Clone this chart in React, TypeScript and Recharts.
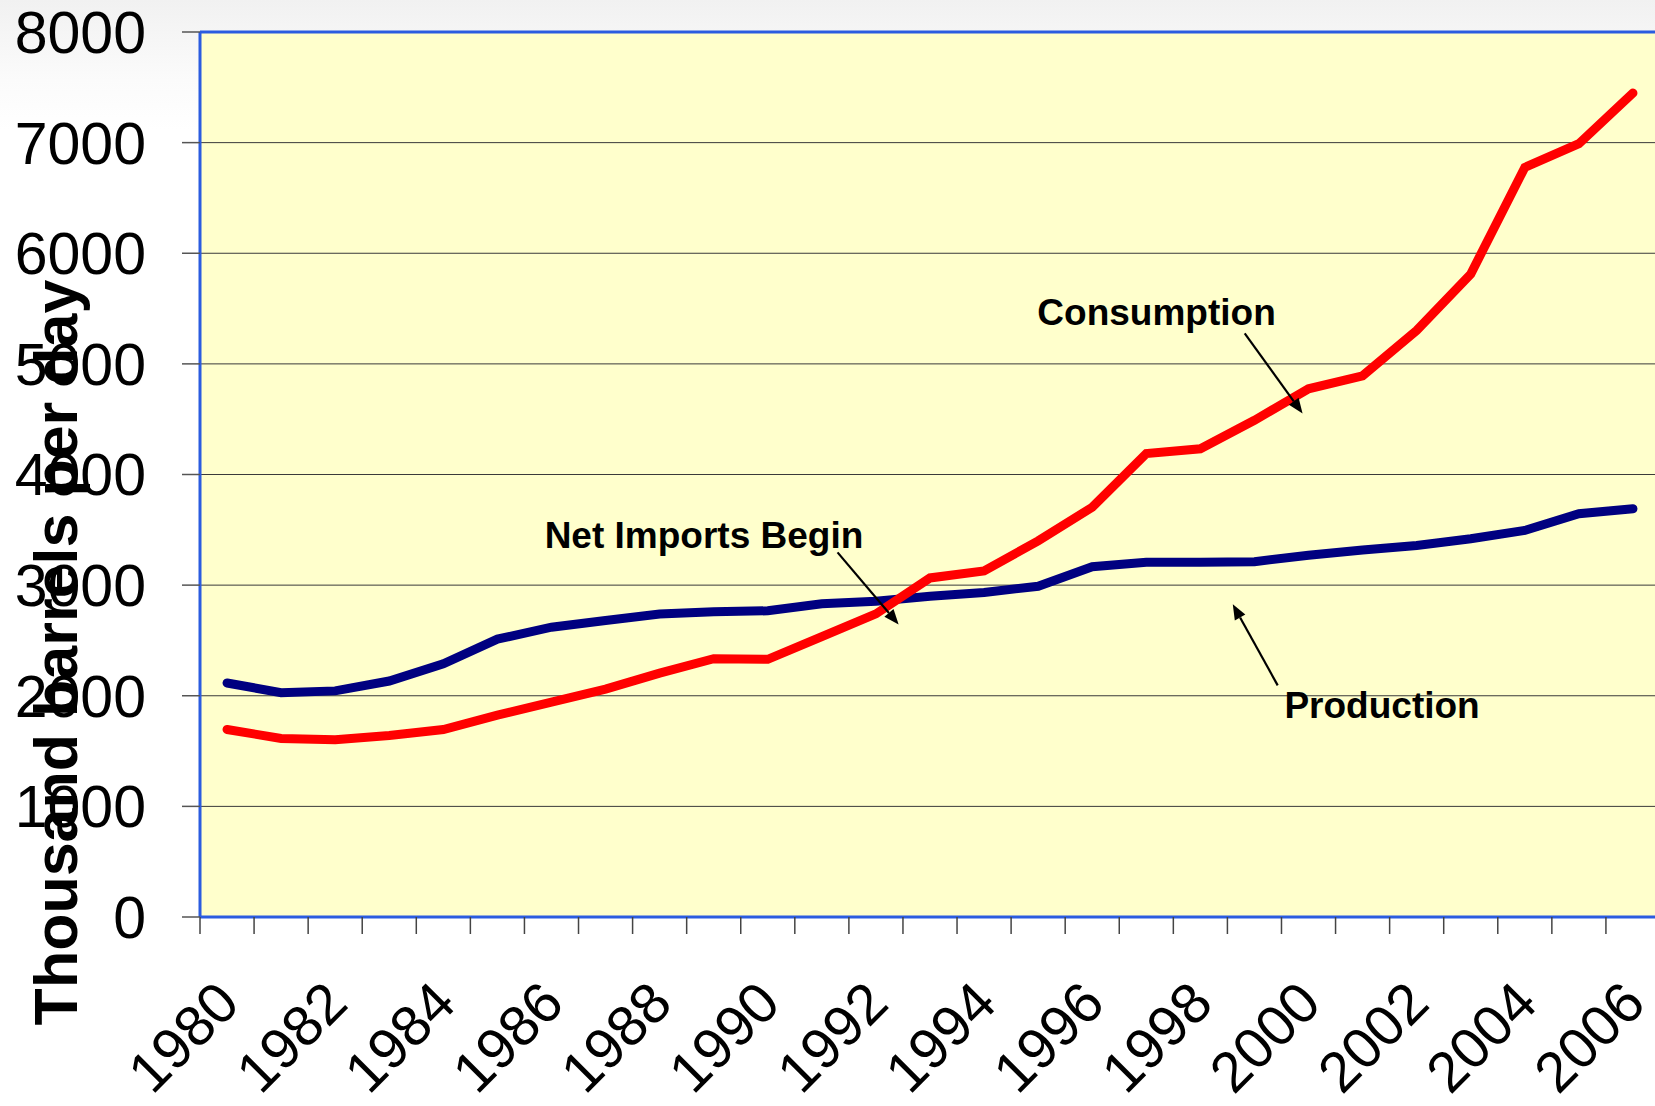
import { LineChart, Line, XAxis, YAxis, CartesianGrid, ReferenceLine, ReferenceDot } from "recharts";

const years = [
  1980, 1981, 1982, 1983, 1984, 1985, 1986, 1987, 1988, 1989, 1990, 1991, 1992, 1993,
  1994, 1995, 1996, 1997, 1998, 1999, 2000, 2001, 2002, 2003, 2004, 2005, 2006,
];
// thousand barrels per day
const consumption = [
  1695, 1614, 1603, 1640, 1695, 1825, 1943, 2060, 2205, 2335, 2329, 2535, 2740, 3065,
  3128, 3400, 3704, 4190, 4232, 4490, 4775, 4892, 5302, 5812, 6776, 6990, 7448,
];
const production = [
  2115, 2028, 2044, 2133, 2289, 2512, 2620, 2680, 2739, 2759, 2768, 2832, 2855, 2900,
  2933, 2990, 3167, 3206, 3206, 3212, 3270, 3318, 3358, 3419, 3494, 3645, 3690,
];
const yTicks = [0, 1000, 2000, 3000, 4000, 5000, 6000, 7000, 8000];
const labelYears = [1980, 1982, 1984, 1986, 1988, 1990, 1992, 1994, 1996, 1998, 2000, 2002, 2004, 2006];
const boundaries = years.map((y) => y - 0.5).concat([years[years.length - 1] + 0.5]);

const notes = [
  { text: "Consumption", year: 1997.19, value: 5348 },
  { text: "Net Imports Begin", year: 1988.82, value: 3332 },
  { text: "Production", year: 2001.36, value: 1795 },
];
const arrows = [
  { from: { x: 1998.82, y: 5276 }, to: { x: 1999.89, y: 4552 } },
  { from: { x: 1991.29, y: 3296 }, to: { x: 1992.42, y: 2645 } },
  { from: { x: 1999.43, y: 2094 }, to: { x: 1998.6, y: 2826 } },
];

const data = years.map((year, i) => ({ year, consumption: consumption[i], production: production[i] }));

const FONT = "'Liberation Sans', Arial, sans-serif";
const BLUE = "#2b5ce0";

const YearTick = ({ x, y, payload }: any) => {
  const ax = x + 15;
  const ay = y + 72;
  return (
    <text x={ax} y={ay} textAnchor="end" transform={`rotate(-45, ${ax}, ${ay})`} fontSize={57} fontFamily={FONT} fill="#000">
      {payload.value}
    </text>
  );
};

const Arrow = (p: any) => {
  const { x1, y1, x2, y2 } = p;
  const a = Math.atan2(y2 - y1, x2 - x1);
  const len = 15;
  const half = 6;
  const bx = x2 - len * Math.cos(a);
  const by = y2 - len * Math.sin(a);
  const pts = `${x2},${y2} ${bx + half * Math.sin(a)},${by - half * Math.cos(a)} ${bx - half * Math.sin(a)},${by + half * Math.cos(a)}`;
  return (
    <g>
      <line x1={x1} y1={y1} x2={bx} y2={by} stroke="#000" strokeWidth={2.2} />
      <polygon points={pts} fill="#000" />
    </g>
  );
};

const YTitle = ({ viewBox }: any) => {
  const tx = viewBox.x + 77;
  const ty = viewBox.y + viewBox.height / 2 + 178;
  return (
    <text x={tx} y={ty} textAnchor="middle" transform={`rotate(-90, ${tx}, ${ty})`} fontSize={61} fontWeight="bold" fontFamily={FONT} fill="#000">
      Thousand barrels per day
    </text>
  );
};

export default function App() {
  return (
    <div
      style={{
        position: "fixed",
        left: 0,
        top: 0,
        width: 1655,
        height: 1106,
        overflow: "hidden",
        background: "linear-gradient(to bottom, #f1f1f1 0px, #fbfbfb 80px, #ffffff 130px)",
      }}
    >
      <LineChart width={1660} height={1106} data={data} margin={{ top: 32, right: 0, left: 0, bottom: 0 }}>
        <CartesianGrid xAxisId="grid" vertical={false} fill="#FFFFCC" stroke="#3a3a3a" strokeWidth={1} />
        <XAxis
          xAxisId="grid"
          dataKey="year"
          type="number"
          domain={[1979.5, 2006.5]}
          ticks={boundaries}
          interval={0}
          tickFormatter={() => ""}
          tickSize={17}
          tickLine={{ stroke: "#444", strokeWidth: 1.5 }}
          axisLine={{ stroke: BLUE, strokeWidth: 3 }}
          height={17}
        />
        <XAxis
          xAxisId="labels"
          dataKey="year"
          type="number"
          domain={[1979.5, 2006.5]}
          ticks={labelYears}
          interval={0}
          tick={<YearTick />}
          tickSize={0}
          tickMargin={0}
          tickLine={false}
          axisLine={false}
          height={172}
        />
        <YAxis
          type="number"
          domain={[0, 8000]}
          ticks={yTicks}
          interval={0}
          width={200}
          tickSize={18}
          tickMargin={36}
          tickLine={{ stroke: "#555", strokeWidth: 1.5 }}
          axisLine={{ stroke: BLUE, strokeWidth: 3 }}
          tick={{ fontSize: 59, fontFamily: FONT, fill: "#000" }}
          label={<YTitle />}
        />
        <ReferenceLine xAxisId="grid" y={8000} stroke={BLUE} strokeWidth={3} />
        <Line
          xAxisId="grid"
          type="linear"
          dataKey="production"
          stroke="#000080"
          strokeWidth={9}
          strokeLinecap="round"
          dot={false}
          isAnimationActive={false}
        />
        <Line
          xAxisId="grid"
          type="linear"
          dataKey="consumption"
          stroke="#FF0000"
          strokeWidth={9}
          strokeLinecap="round"
          dot={false}
          isAnimationActive={false}
        />
        {arrows.map((a, i) => (
          <ReferenceLine key={`arrow-${i}`} xAxisId="grid" segment={[a.from, a.to]} shape={Arrow} />
        ))}
        {notes.map((n) => (
          <ReferenceDot
            key={n.text}
            xAxisId="grid"
            x={n.year}
            y={n.value}
            r={1}
            shape={(p: any) => (
              <text x={p.cx} y={p.cy} textAnchor="middle" fontSize={37} fontWeight="bold" fontFamily={FONT} fill="#000">
                {n.text}
              </text>
            )}
          />
        ))}
      </LineChart>
    </div>
  );
}
